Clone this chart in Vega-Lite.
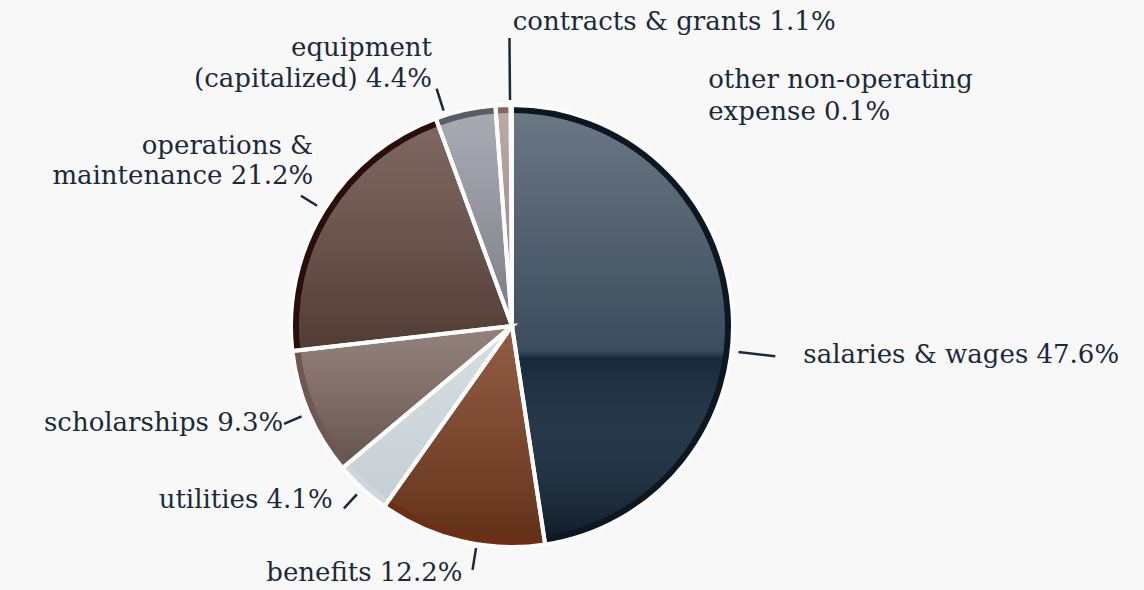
{
  "$schema": "https://vega.github.io/schema/vega-lite/v6.json",
  "width": 1024,
  "height": 528,
  "autosize": "none",
  "padding": {"left": 0, "top": 62, "right": 120, "bottom": 0},
  "background": "#f8f8f8",
  "config": {"view": {"stroke": null}},
  "data": {
    "values": [
      {"rank": 1, "category": "salaries & wages", "share": 47.6, "label": "salaries & wages 47.6%"},
      {"rank": 2, "category": "benefits", "share": 12.2, "label": "benefits 12.2%"},
      {"rank": 3, "category": "utilities", "share": 4.1, "label": "utilities 4.1%"},
      {"rank": 4, "category": "scholarships", "share": 9.3, "label": "scholarships 9.3%"},
      {"rank": 5, "category": "operations & maintenance", "share": 21.2, "label": "operations &\nmaintenance 21.2%"},
      {"rank": 6, "category": "equipment (capitalized)", "share": 4.4, "label": "equipment\n(capitalized) 4.4%"},
      {"rank": 7, "category": "contracts & grants", "share": 1.1, "label": "contracts & grants 1.1%"},
      {"rank": 8, "category": "other non-operating expense", "share": 0.1, "label": "other non-operating\nexpense 0.1%"}
    ]
  },
  "encoding": {
    "theta": {"field": "share", "type": "quantitative", "stack": true},
    "order": {"field": "rank", "type": "quantitative", "sort": "ascending"}
  },
  "layer": [
    {
      "mark": {"type": "arc", "radius": 221},
      "encoding": {
        "fill": {
          "field": "category", "type": "nominal", "legend": null,
          "scale": {
            "domain": ["salaries & wages", "benefits", "utilities", "scholarships", "operations & maintenance", "equipment (capitalized)", "contracts & grants", "other non-operating expense"],
            "range": ["#0b1824", "#6d2e14", "#cdd7dd", "#6e5850", "#2a0e08", "#5a5c68", "#86665f", "#8a6a63"]
          }
        }
      }
    },
    {
      "mark": {"type": "arc", "radius": 213},
      "encoding": {
        "color": {
          "field": "category", "type": "nominal", "legend": null,
          "scale": {
            "domain": ["salaries & wages", "benefits", "utilities", "scholarships", "operations & maintenance", "equipment (capitalized)", "contracts & grants", "other non-operating expense"],
            "range": ["#172a3d", "#7c3d1f", "#d3dce2", "#7f6a62", "#654a42", "#979aa4", "#b09893", "#c9b8b3"]
          }
        }
      }
    },
    {
      "mark": {
        "type": "arc", "radius": 213,
        "fill": {"gradient": "linear", "x1": 0, "y1": 0, "x2": 0, "y2": 1,
          "stops": [{"offset": 0, "color": "rgba(255,255,255,0.16)"}, {"offset": 1, "color": "rgba(0,0,0,0.2)"}]}
      },
      "encoding": {
        "fillOpacity": {
          "condition": [
            {"test": "datum.category === 'salaries & wages'", "value": 0},
            {"test": "datum.category === 'utilities'", "value": 0.3}
          ],
          "value": 1
        }
      }
    },
    {
      "mark": {
        "type": "arc", "radius": 213,
        "fill": {"gradient": "linear", "x1": 0, "y1": 0, "x2": 0, "y2": 1,
          "stops": [
            {"offset": 0, "color": "rgba(255,255,255,0.36)"},
            {"offset": 0.56, "color": "rgba(255,255,255,0.16)"},
            {"offset": 0.58, "color": "rgba(255,255,255,0)"},
            {"offset": 1, "color": "rgba(0,0,0,0.3)"}
          ]}
      },
      "encoding": {
        "fillOpacity": {"condition": {"test": "datum.category === 'salaries & wages'", "value": 1}, "value": 0}
      }
    },
    {
      "mark": {"type": "arc", "radius": 221, "fill": "#ffffff", "fillOpacity": 0, "stroke": "#fcfcfc", "strokeWidth": 4}
    },
    {
      "mark": {"type": "arc", "radius": 248, "radius2": 229, "padAngle": 3, "fill": "#ffffff", "fillOpacity": 0, "stroke": "#1b2a3b", "strokeWidth": 2.5},
      "encoding": {
        "strokeOpacity": {"condition": {"test": "indexof(['utilities','scholarships','operations & maintenance'], datum.category) >= 0", "value": 1}, "value": 0}
      }
    },
    {
      "mark": {"type": "arc", "radius": 265, "radius2": 228, "padAngle": 3, "thetaOffset": 0.19, "theta2Offset": 0.19, "fill": "#ffffff", "fillOpacity": 0, "stroke": "#1b2a3b", "strokeWidth": 2.5},
      "encoding": {
        "strokeOpacity": {"condition": {"test": "datum.category === 'salaries & wages'", "value": 1}, "value": 0}
      }
    },
    {
      "mark": {"type": "arc", "radius": 247, "radius2": 225, "padAngle": 3, "thetaOffset": -0.072, "theta2Offset": -0.072, "fill": "#ffffff", "fillOpacity": 0, "stroke": "#1b2a3b", "strokeWidth": 2.5},
      "encoding": {
        "strokeOpacity": {"condition": {"test": "datum.category === 'benefits'", "value": 1}, "value": 0}
      }
    },
    {
      "mark": {"type": "arc", "radius": 249, "radius2": 226, "padAngle": 3, "thetaOffset": -0.094, "theta2Offset": -0.094, "fill": "#ffffff", "fillOpacity": 0, "stroke": "#1b2a3b", "strokeWidth": 2.5},
      "encoding": {
        "strokeOpacity": {"condition": {"test": "datum.category === 'equipment (capitalized)'", "value": 1}, "value": 0}
      }
    },
    {
      "mark": {"type": "arc", "radius": 288, "radius2": 226, "padAngle": 3, "thetaOffset": 0.032, "theta2Offset": 0.032, "fill": "#ffffff", "fillOpacity": 0, "stroke": "#1b2a3b", "strokeWidth": 2.5},
      "encoding": {
        "strokeOpacity": {"condition": {"test": "datum.category === 'contracts & grants'", "value": 1}, "value": 0}
      }
    },
    {
      "mark": {"type": "text", "radius": 250, "align": "left", "baseline": "middle", "dx": 42, "dy": 48, "font": "DejaVu Serif", "fontSize": 26, "fill": "#1b2a3b", "lineBreak": "\n", "lineHeight": 31},
      "encoding": {"text": {"condition": {"test": "datum.category === 'salaries & wages'", "field": "label", "type": "nominal"}, "value": ""}}
    },
    {
      "mark": {"type": "text", "radius": 250, "align": "right", "baseline": "middle", "dx": 8, "dy": 4, "font": "DejaVu Serif", "fontSize": 26, "fill": "#1b2a3b", "lineBreak": "\n", "lineHeight": 31},
      "encoding": {"text": {"condition": {"test": "datum.category === 'benefits'", "field": "label", "type": "nominal"}, "value": ""}}
    },
    {
      "mark": {"type": "text", "radius": 250, "align": "right", "baseline": "middle", "dx": -10, "dy": -10, "font": "DejaVu Serif", "fontSize": 26, "fill": "#1b2a3b", "lineBreak": "\n", "lineHeight": 31},
      "encoding": {"text": {"condition": {"test": "datum.category === 'utilities'", "field": "label", "type": "nominal"}, "value": ""}}
    },
    {
      "mark": {"type": "text", "radius": 250, "align": "right", "baseline": "middle", "dx": 1, "dy": -2, "font": "DejaVu Serif", "fontSize": 26, "fill": "#1b2a3b", "lineBreak": "\n", "lineHeight": 31},
      "encoding": {"text": {"condition": {"test": "datum.category === 'scholarships'", "field": "label", "type": "nominal"}, "value": ""}}
    },
    {
      "mark": {"type": "text", "radius": 250, "align": "right", "baseline": "middle", "dx": 14, "dy": -49, "font": "DejaVu Serif", "fontSize": 26, "fill": "#1b2a3b", "lineBreak": "\n", "lineHeight": 30},
      "encoding": {"text": {"condition": {"test": "datum.category === 'operations & maintenance'", "field": "label", "type": "nominal"}, "value": ""}}
    },
    {
      "mark": {"type": "text", "radius": 250, "align": "right", "baseline": "middle", "dx": -27, "dy": -34, "font": "DejaVu Serif", "fontSize": 26, "fill": "#1b2a3b", "lineBreak": "\n", "lineHeight": 31},
      "encoding": {"text": {"condition": {"test": "datum.category === 'equipment (capitalized)'", "field": "label", "type": "nominal"}, "value": ""}}
    },
    {
      "mark": {"type": "text", "radius": 250, "align": "left", "baseline": "middle", "dx": 11, "dy": -54, "font": "DejaVu Serif", "fontSize": 26, "fill": "#1b2a3b", "lineBreak": "\n", "lineHeight": 31},
      "encoding": {"text": {"condition": {"test": "datum.category === 'contracts & grants'", "field": "label", "type": "nominal"}, "value": ""}}
    },
    {
      "mark": {"type": "text", "radius": 250, "align": "left", "baseline": "middle", "dx": 197, "dy": 4, "font": "DejaVu Serif", "fontSize": 26, "fill": "#1b2a3b", "lineBreak": "\n", "lineHeight": 32},
      "encoding": {"text": {"condition": {"test": "datum.category === 'other non-operating expense'", "field": "label", "type": "nominal"}, "value": ""}}
    }
  ],
  "resolve": {"scale": {"color": "independent", "fill": "independent"}}
}
